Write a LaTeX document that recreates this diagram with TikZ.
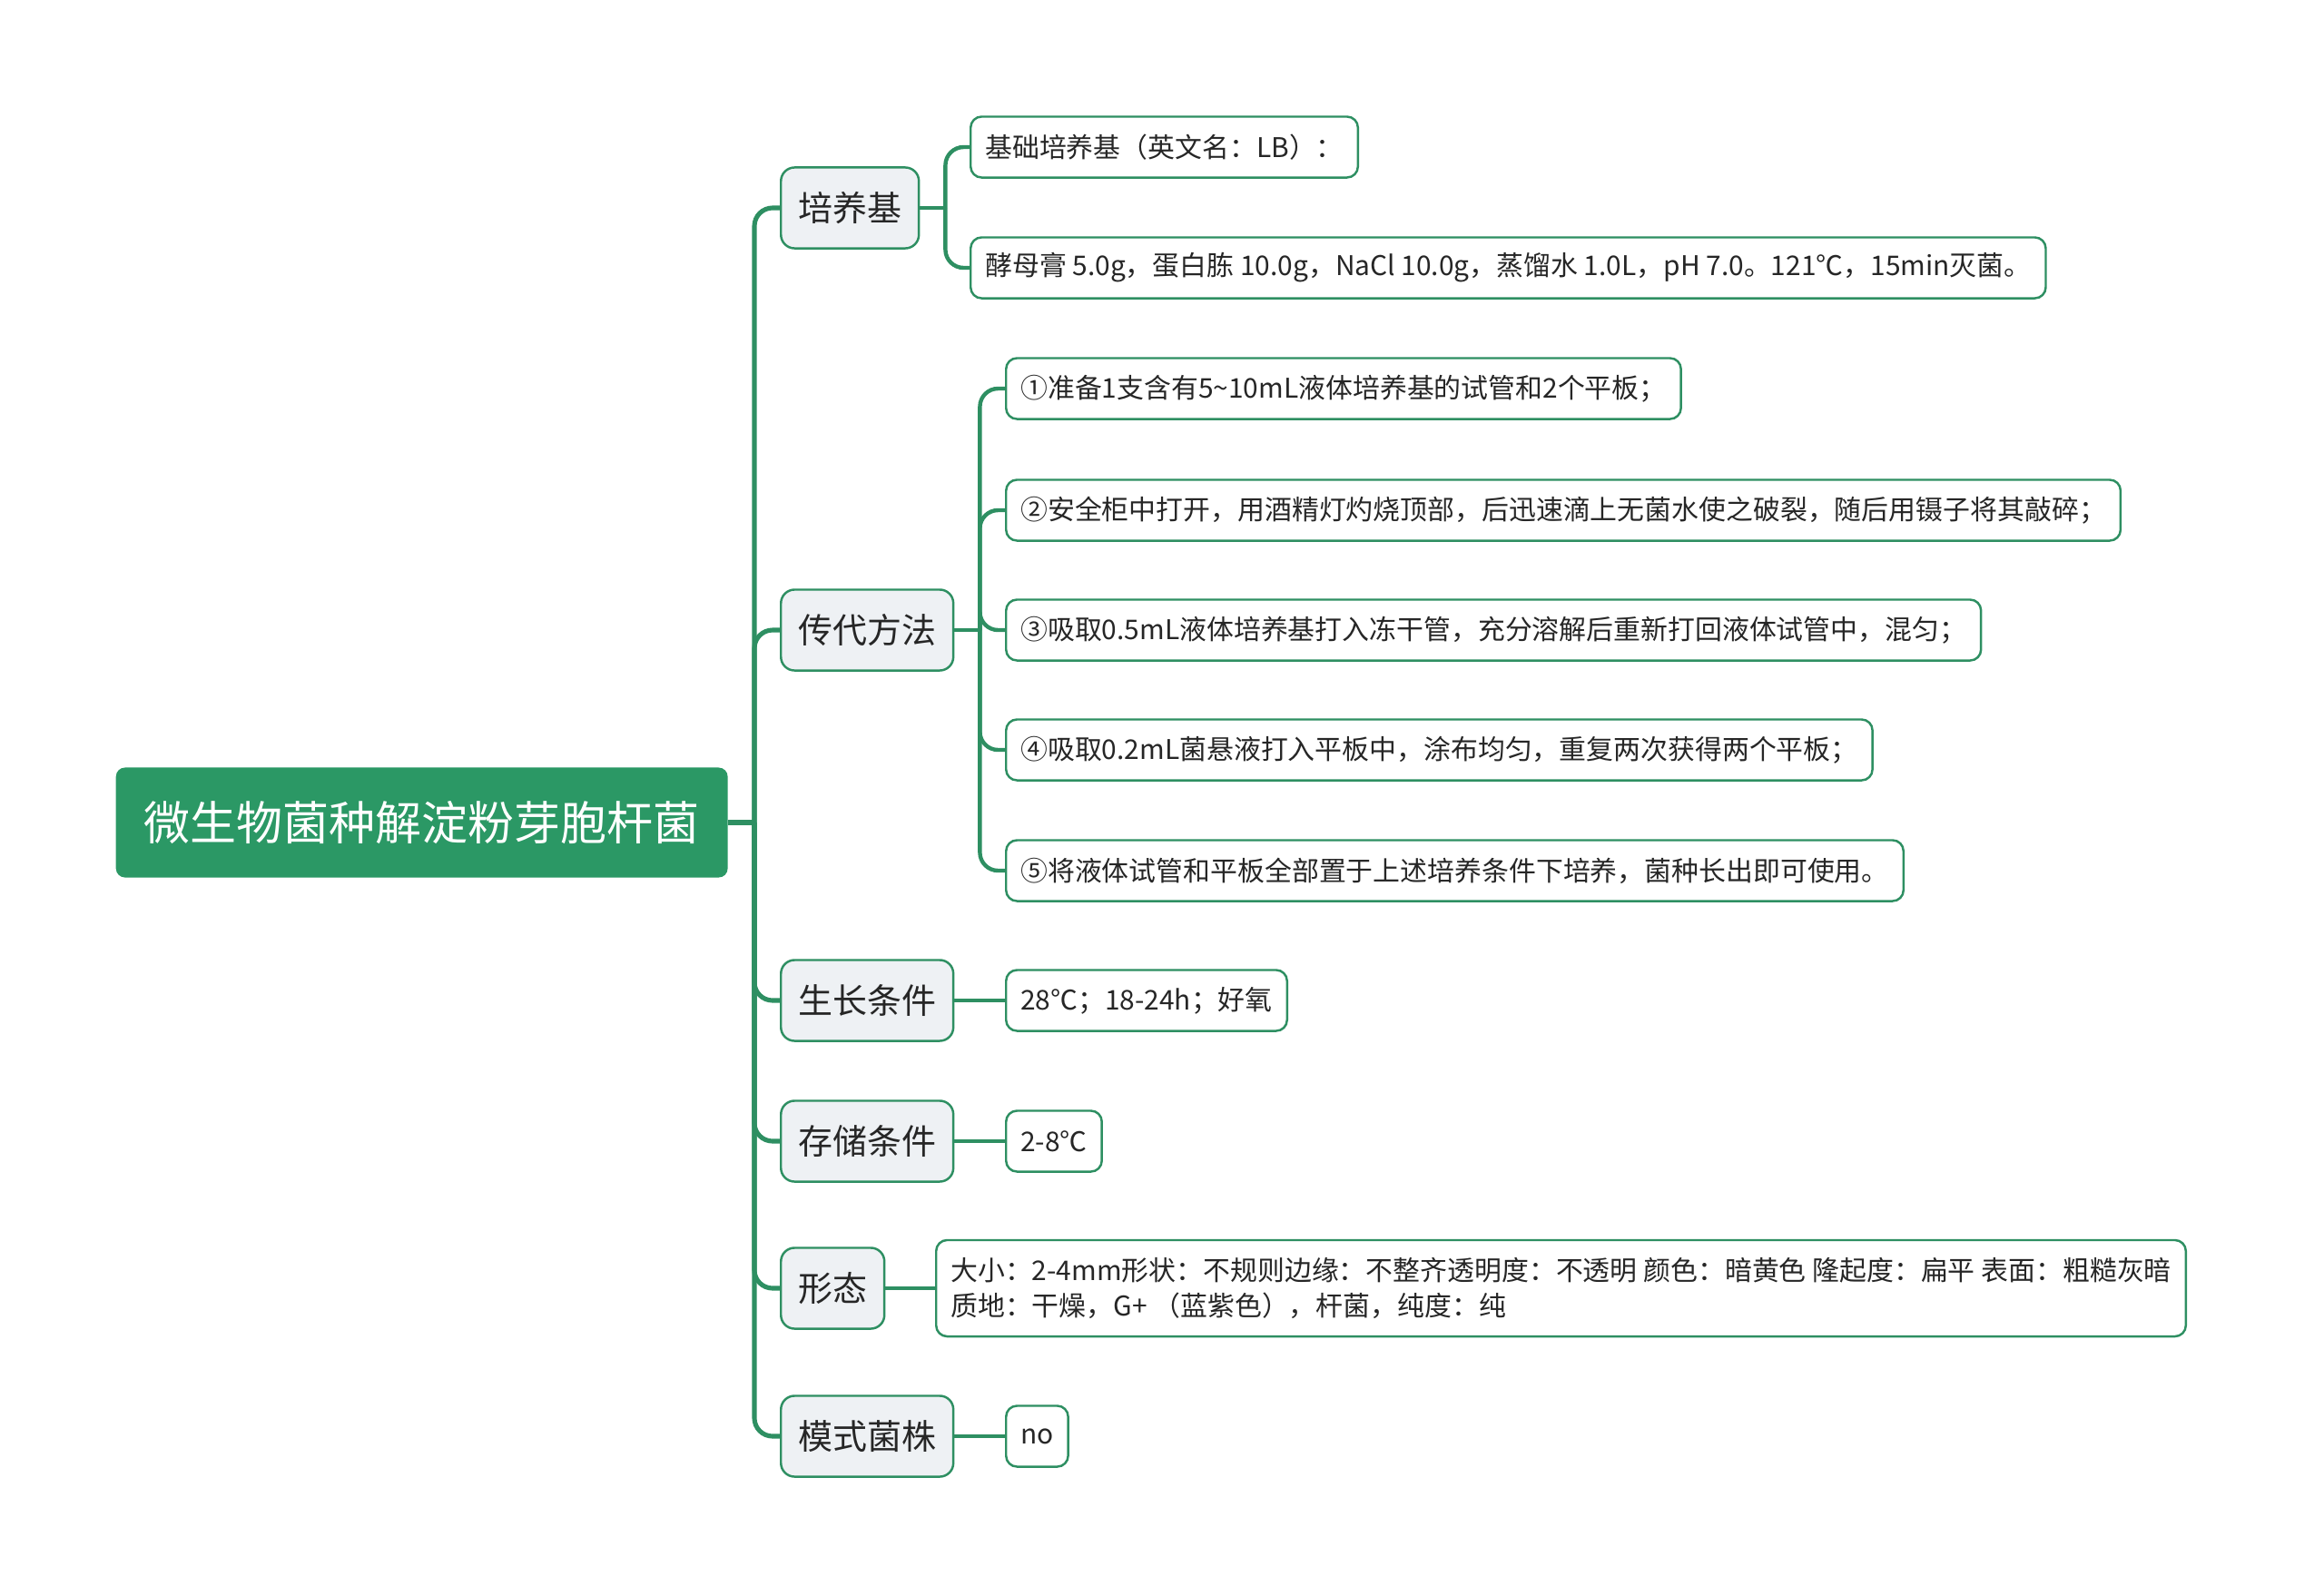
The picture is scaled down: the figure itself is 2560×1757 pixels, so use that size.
\documentclass[tikz,border=0pt]{standalone}
\usepackage{fontspec}
\newfontfamily\cjk{Noto Sans CJK SC}
\definecolor{mapgreen}{HTML}{2B9865}
\definecolor{linegreen}{HTML}{2E8F62}
\definecolor{subfill}{HTML}{EEF1F4}
\definecolor{inkgray}{HTML}{262626}

\begin{document}
\begin{tikzpicture}[x=0.01cm,y=-0.01cm]
\tikzstyle{every node}+=[font=\cjk, text=inkgray]
\tikzstyle{rootbox}=[fill=mapgreen, text=white, rounded corners=0.1cm, inner xsep=0.31cm, minimum height=1.21cm, anchor=west, font=\cjk\fontsize{14.5}{17}\selectfont]
\tikzstyle{topicbox}=[draw=linegreen, line width=0.7pt, fill=subfill, rounded corners=0.15cm, inner xsep=0.19cm, minimum height=0.89cm, anchor=west, font=\cjk\fontsize{10.8}{13}\selectfont]
\tikzstyle{leafbox}=[draw=linegreen, line width=0.7pt, fill=white, rounded corners=0.12cm, inner xsep=0.16cm, minimum height=0.67cm, anchor=west, font=\cjk\fontsize{8.5}{11.1}\selectfont]
\tikzstyle{trunk}=[draw=linegreen, line width=1.45pt, rounded corners=0.2cm]
\tikzstyle{twig}=[draw=linegreen, line width=1.25pt, rounded corners=0.2cm]
\useasboundingbox (0,0) rectangle (2560,1757);
\node[rootbox] (root) at (127,906) {微生物菌种解淀粉芽胞杆菌};
\node[topicbox] (pyj) at (859,229) {培养基};
\node[topicbox] (cdff) at (859,694) {传代方法};
\node[topicbox] (sztj) at (859,1102) {生长条件};
\node[topicbox] (cctj) at (859,1257) {存储条件};
\node[topicbox] (xt) at (859,1419) {形态};
\node[topicbox] (msjz) at (859,1582) {模式菌株};
\node[leafbox] (pyj1) at (1068,162) {基础培养基（英文名：LB）：};
\node[leafbox] (pyj2) at (1068,295) {酵母膏 5.0g，蛋白胨 10.0g，NaCl 10.0g，蒸馏水 1.0L，pH 7.0。121℃，15min灭菌。};
\node[leafbox] (cd1) at (1107,428) {①准备1支含有5\textasciitilde10mL液体培养基的试管和2个平板；};
\node[leafbox] (cd2) at (1107,562) {②安全柜中打开，用酒精灯灼烧顶部，后迅速滴上无菌水使之破裂，随后用镊子将其敲碎；};
\node[leafbox] (cd3) at (1107,694) {③吸取0.5mL液体培养基打入冻干管，充分溶解后重新打回液体试管中，混匀；};
\node[leafbox] (cd4) at (1107,826) {④吸取0.2mL菌悬液打入平板中，涂布均匀，重复两次获得两个平板；};
\node[leafbox] (cd5) at (1107,959) {⑤将液体试管和平板全部置于上述培养条件下培养，菌种长出即可使用。};
\node[leafbox] (sz1) at (1107,1102) {28℃；18-24h；好氧};
\node[leafbox] (cc1) at (1107,1257) {2-8℃};
\node[leafbox, align=left, minimum height=1.06cm] (xt1) at (1030,1419) {大小：2-4mm形状：不规则边缘：不整齐透明度：不透明 颜色：暗黄色 隆起度：扁平 表面：粗糙灰暗\\质地：干燥，G+ （蓝紫色），杆菌，纯度：纯};
\node[leafbox] (ms1) at (1107,1582) {no};
\coordinate (hub) at (831,906);
\draw[trunk, sharp corners] (root.east) -- (hub);
\foreach \t in {pyj,cdff,sztj,cctj,xt,msjz}
  \draw[trunk] (hub) |- (\t.west);
\draw[twig] (pyj.east) -- ++(28,0) coordinate (pyjfork);
\foreach \c in {pyj1,pyj2}
  \draw[twig] (pyjfork) |- (\c.west);
\draw[twig] (cdff.east) -- ++(28,0) coordinate (cdfork);
\foreach \c in {cd1,cd2,cd3,cd4,cd5}
  \draw[twig] (cdfork) |- (\c.west);
\draw[twig] (sztj) -- (sz1);
\draw[twig] (cctj) -- (cc1);
\draw[twig] (xt) -- (xt1);
\draw[twig] (msjz) -- (ms1);
\end{tikzpicture}
\end{document}
